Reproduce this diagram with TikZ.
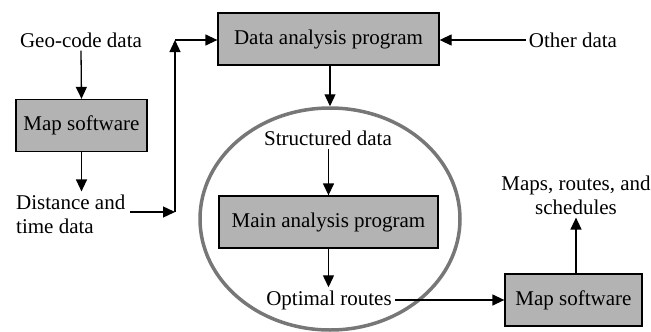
\documentclass[tikz,border=0pt]{standalone}
\usepackage{fontspec}
\setmainfont{Liberation Serif}
\usetikzlibrary{arrows.meta,shapes.geometric}
\definecolor{boxgray}{HTML}{B3B3B3}
\definecolor{ringgray}{HTML}{777777}
\begin{document}
\begin{tikzpicture}[x=1pt,y=-1pt,
  every node/.style={font=\fontsize{21}{24}\selectfont},
  procbox/.style={draw=black,line width=1.3pt,fill=boxgray,minimum height=52pt,inner sep=0pt},
  txt/.style={inner sep=3pt},
  arr/.style={line width=1.3pt,-{Triangle[length=12pt,width=11pt]}}]
\useasboundingbox (0,0) rectangle (651,332);
\node[draw=ringgray,line width=3.5pt,ellipse,minimum width=260pt,minimum height=222pt,inner sep=0pt] (ring) at (330,219) {};
\node[txt] (geo) at (81,40) {Geo-code data};
\node[procbox,minimum width=131pt] (map1) at (81.5,125.5) {Map software};
\node[txt,align=left,anchor=west] (dist) at (13,214) {Distance and\\time data};
\node[procbox,minimum width=221pt] (da) at (328.5,39) {Data analysis program};
\node[txt] (other) at (573,40) {Other data};
\node[txt] (sd) at (328,138) {Structured data};
\node[procbox,minimum width=219pt] (main) at (328.5,222) {Main analysis program};
\node[txt] (opt) at (329,300) {Optimal routes};
\node[procbox,minimum width=137pt] (map2) at (573.5,300) {Map software};
\node[txt,align=center] (out) at (576,195) {Maps, routes, and\\schedules};
\coordinate (j) at (175,212);
\coordinate (k) at (175,40);
\draw[arr] (geo.south) -- (map1.north);
\draw[arr] (map1.south) -- (map1.south |- dist.north);
\draw[arr] ([xshift=2pt]dist.east |- j) -- (j);
\draw[arr] (j) -- (k);
\draw[arr] (k) -- (k -| da.west);
\draw[arr] (other.west) -- (other.west -| da.east);
\draw[arr] (da.south -| ring.north) -- (ring.north);
\draw[arr] (sd.south -| main.north) -- (main.north);
\draw[arr] (main.south) -- (main.south |- opt.north);
\draw[arr] (opt.east) -- (map2.west);
\draw[arr] (map2.north -| out.south) -- (out.south);
\end{tikzpicture}
\end{document}
